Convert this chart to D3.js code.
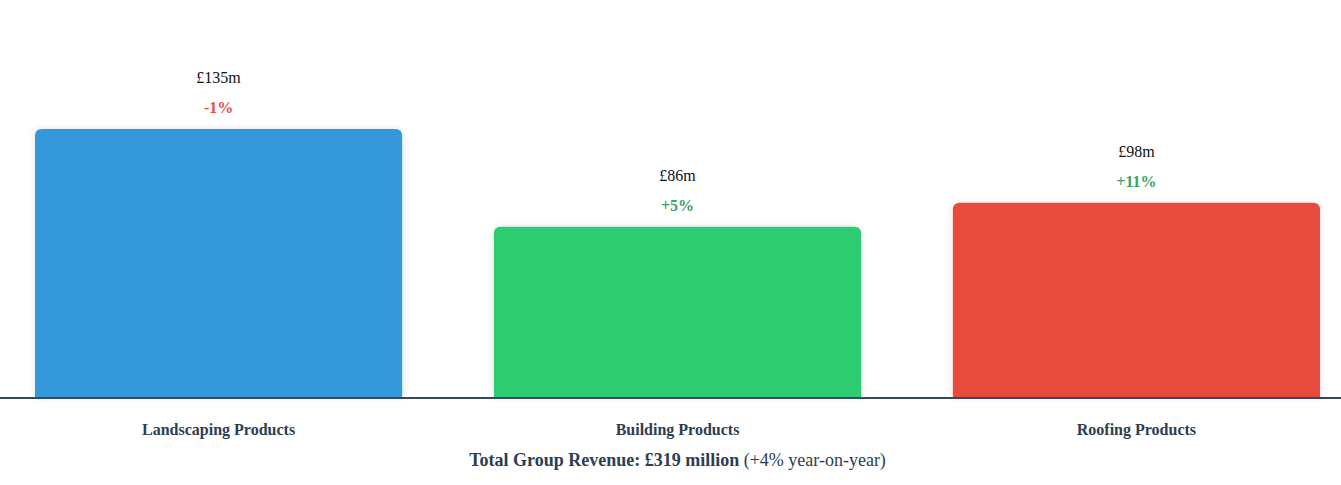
<!DOCTYPE html>
<html><head><meta charset="utf-8">
<script src="https://cdn.jsdelivr.net/npm/d3@7"></script>
<style>
html,body{margin:0;padding:0;background:#fff;}
svg{display:block;font-family:"Liberation Serif","Times New Roman",serif;}
</style></head>
<body>
<svg id="chart" width="1341" height="485"></svg>
<script>
const categories = ["Landscaping Products", "Building Products", "Roofing Products"];
const revenue = [135, 86, 98];
const changeLabels = ["-1%", "+5%", "+11%"];
const valueLabels = ["£135m", "£86m", "£98m"];
const barColors = ["#3498db", "#2ecc71", "#e74c3c"];
const totalBold = "Total Group Revenue: £319 million";
const totalNormal = " (+4% year-on-year)";

const svg = d3.select("#chart");
const W = 1341, baseY = 398;

const defs = svg.append("defs");
const f = defs.append("filter").attr("id","sh").attr("x","-10%").attr("y","-10%").attr("width","120%").attr("height","120%");
f.append("feDropShadow").attr("dx",0).attr("dy",0).attr("stdDeviation",3).attr("flood-color","#000").attr("flood-opacity",0.12);

const x = d3.scaleBand().domain(categories).range([35, 1320]).paddingInner(0.2).paddingOuter(0);
const y = d3.scaleLinear().domain([0, 135]).range([baseY, 129]);

const r = 7;
function barPath(x0, w, top, bottom) {
  return `M${x0},${bottom}V${top + r}Q${x0},${top} ${x0 + r},${top}H${x0 + w - r}Q${x0 + w},${top} ${x0 + w},${top + r}V${bottom}Z`;
}

const g = svg.append("g");
categories.forEach((c, i) => {
  const x0 = x(c), w = x.bandwidth(), top = y(revenue[i]);
  g.append("path").attr("d", barPath(x0, w, top, baseY)).attr("fill", barColors[i]).attr("filter","url(#sh)");
  g.append("text").attr("x", x0 + w / 2).attr("y", top - 46).attr("text-anchor","middle")
    .attr("font-size", 16).attr("fill","#111").text(valueLabels[i]);
  g.append("text").attr("x", x0 + w / 2).attr("y", top - 16).attr("text-anchor","middle")
    .attr("font-size", 16).attr("font-weight","bold")
    .attr("fill", changeLabels[i].startsWith("-") ? "#d9534f" : "#3aa364").text(changeLabels[i]);
  g.append("text").attr("x", x0 + w / 2).attr("y", 435).attr("text-anchor","middle")
    .attr("font-size", 16).attr("font-weight","bold").attr("fill","#2c3e50").text(c);
});

svg.append("line").attr("x1",0).attr("x2",W).attr("y1",baseY).attr("y2",baseY)
  .attr("stroke","#34495e").attr("stroke-width",2);

const t = svg.append("text").attr("x", W/2 + 7).attr("y", 466).attr("text-anchor","middle")
  .attr("font-size", 18).attr("fill","#2c3e50");
t.append("tspan").attr("font-weight","bold").text(totalBold);
t.append("tspan").text(totalNormal);
</script>
</body></html>
